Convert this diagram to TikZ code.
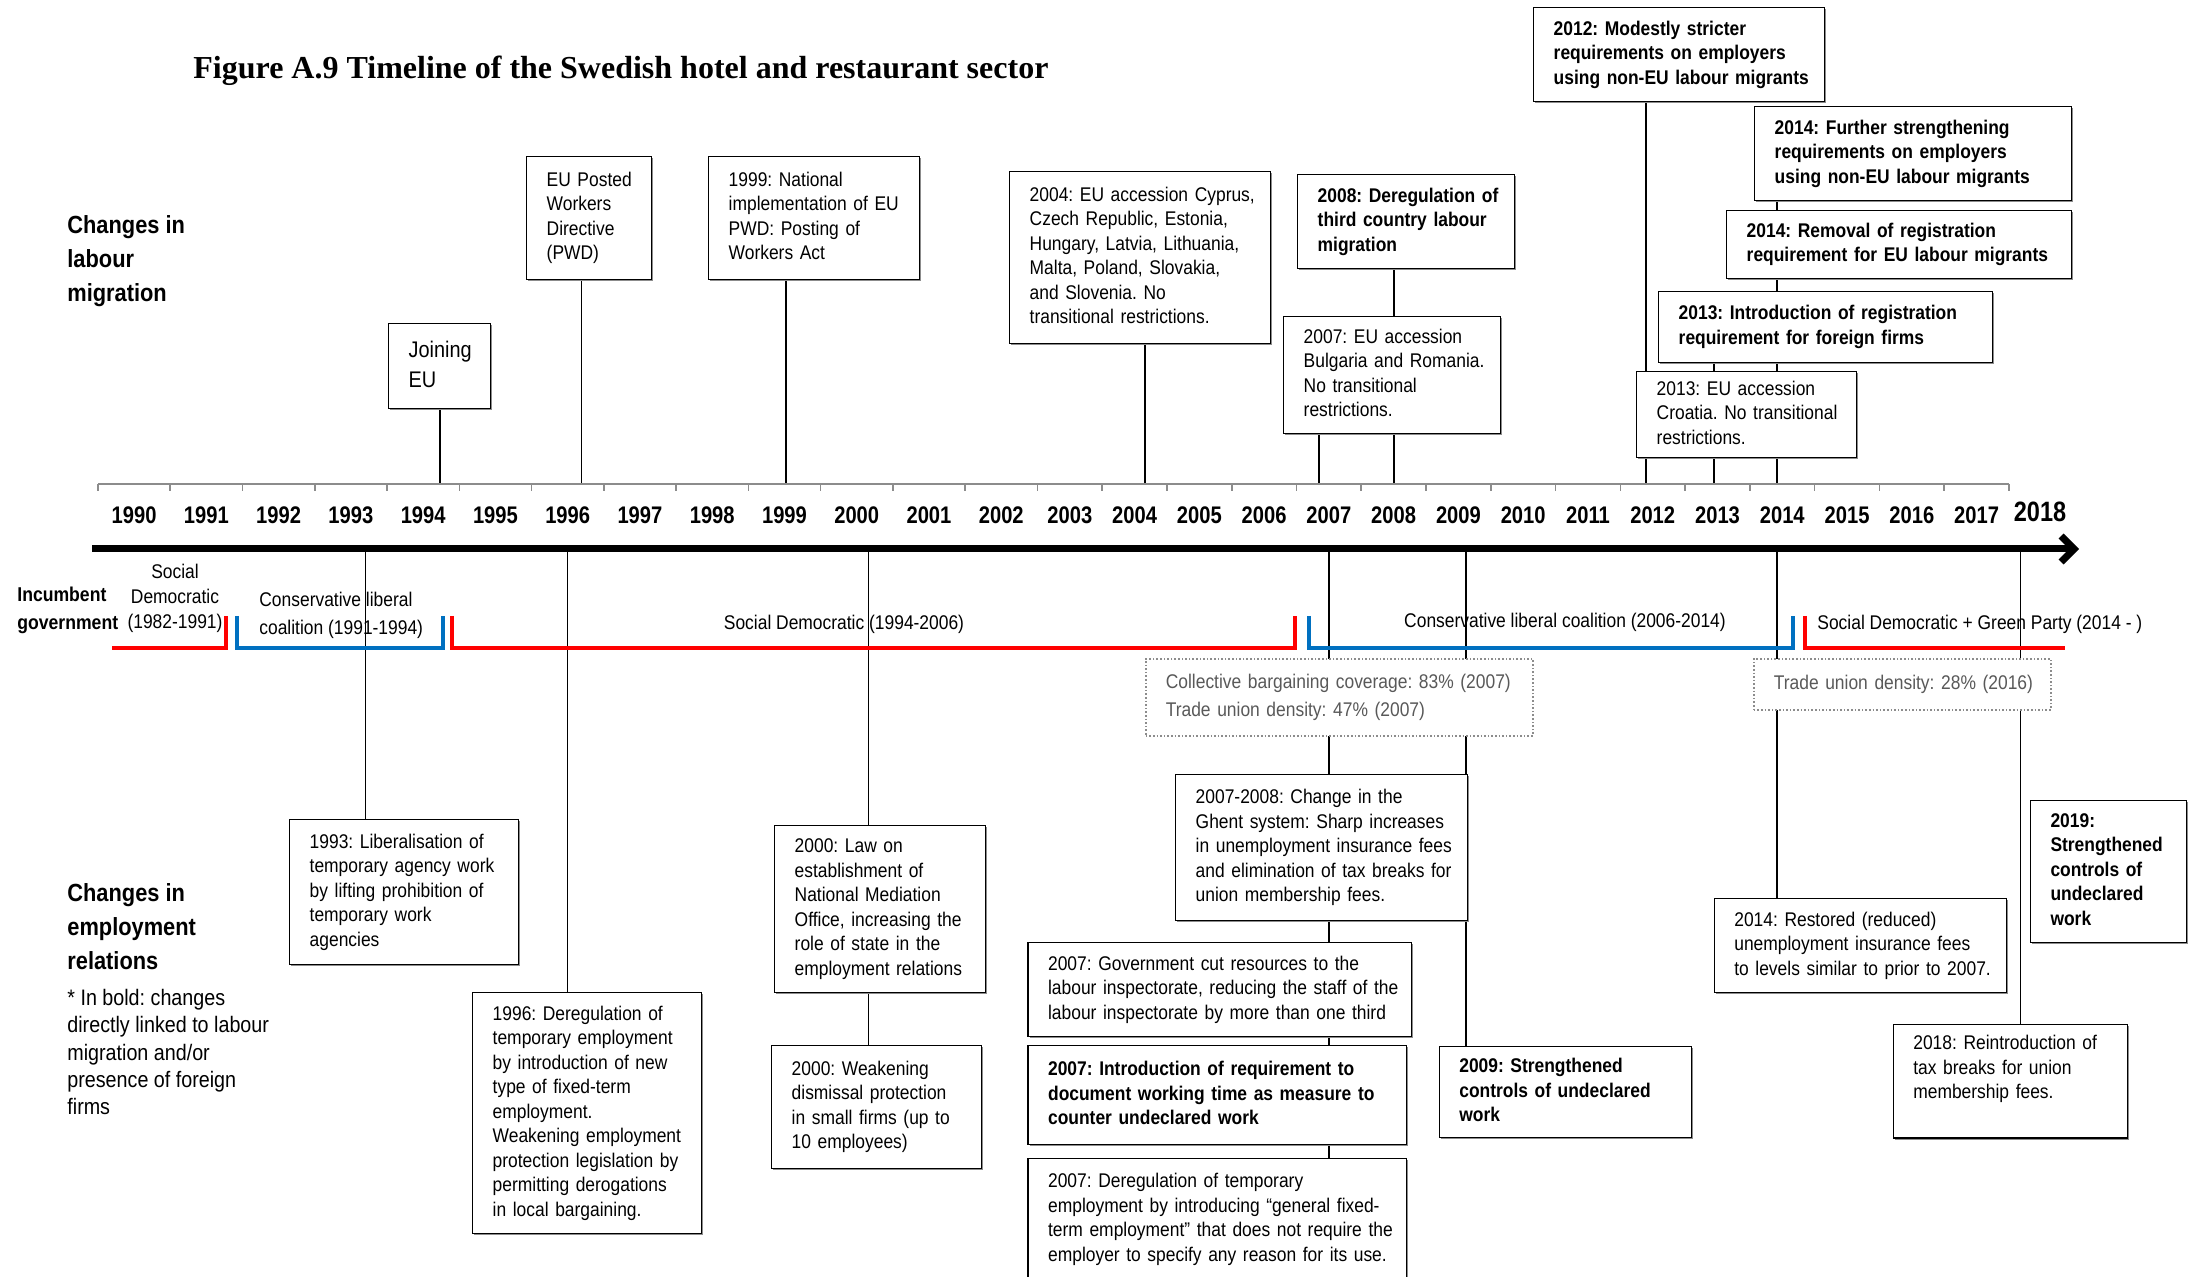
\documentclass[tikz,border=0pt]{standalone}
\usepackage{fontspec}
\setmainfont{Liberation Sans}[FakeStretch=0.88]
\newfontfamily\titlefont{Liberation Serif}
\newfontfamily\yearfont{Liberation Sans}[FakeStretch=0.84]
\usepackage{xcolor}
\definecolor{govRed}{HTML}{FF0000}
\definecolor{govBlue}{HTML}{0070C0}
\definecolor{axisGray}{HTML}{8C8C8C}
\definecolor{noteGray}{HTML}{595959}
\usepackage{tikz}
\usetikzlibrary{arrows.meta,shadows,backgrounds}
\newcommand{\boxlines}[1]{\begin{tabular}{@{}l@{}}#1\end{tabular}}
\frenchspacing

\begin{document}
\begin{tikzpicture}[
  x=1pt, y=-1pt,
  font=\fontsize{9.9}{12.25}\selectfont,
  evt/.style={draw, fill=white, line width=0.7pt, anchor=north west,
              inner xsep=10pt, inner ysep=1pt, align=left,
              drop shadow={shadow xshift=0.7pt, shadow yshift=-0.7pt, fill=black!45, opacity=1}},
  evtb/.style={evt, font=\bfseries\fontsize{9.9}{12.25}\selectfont},
  wh/.style 2 args={minimum width=#1pt, minimum height=#2pt, text width={#1pt-20pt}},
  stat/.style={draw=axisGray, densely dotted, fill=white, line width=0.8pt, anchor=north west,
               inner xsep=10pt, inner ysep=1pt, align=left, text=noteGray,
               font=\fontsize{9.9}{14}\selectfont},
  link/.style={line width=0.7pt},
  tick/.style={draw=axisGray, line width=0.8pt},
  timeax/.style={line width=3.5pt, -{Straight Barb[length=6.5pt,width=13pt]}},
  yr/.style={font=\yearfont\bfseries\fontsize{12}{14}\selectfont, inner sep=0},
  redgov/.style={draw=govRed, line width=1.8pt},
  bluegov/.style={draw=govBlue, line width=1.8pt},
  govtxt/.style={inner sep=0, align=left},
  side/.style={anchor=north west, inner sep=0, align=left,
               font=\bfseries\fontsize{12.4}{17}\selectfont}
]
\useasboundingbox (0,0) rectangle (1097,638.5);

% title and side labels
\node[anchor=base west, inner sep=0, font=\titlefont\bfseries\fontsize{16}{19}\selectfont] (title)
  at (96.5,39.2) {Figure A.9 Timeline of the Swedish hotel and restaurant sector};
\node[side] (lblMig) at (33.5,107.5) {Changes in\\labour\\migration};
\node[side, font=\bfseries\fontsize{10}{14}\selectfont] (lblGov) at (8.5,293.4) {Incumbent\\government};
\node[side] (lblEmp) at (33.5,441.8) {Changes in\\employment\\relations};
\node[side, font=\fontsize{11.2}{13.6}\selectfont] (lblNote) at (33.5,494.5)
  {* In bold: changes\\directly linked to labour\\migration and/or\\presence of foreign\\firms};

% time axis
\coordinate (tickL) at (49,242);
\coordinate (tickR) at (1004.5,242);
\draw[tick] (tickL) -- (tickR);
\foreach \k in {0,...,13} \draw[tick] ({49+36.13*\k},242) -- ++(0,3.5);
\foreach \j in {1,...,15} \draw[tick] ({518.7+32.385*\j},242) -- ++(0,3.5);
\foreach \yr [count=\i from 0] in {1990,...,2002}
  \node[yr] (y\yr) at ({49+36.13*(\i+0.5)},257.5) {\yr};
\foreach \yr [count=\i from 0] in {2003,...,2017}
  \node[yr] (y\yr) at ({518.7+32.385*(\i+0.5)},257.5) {\yr};
\node[yr, font=\yearfont\bfseries\fontsize{14}{16}\selectfont] (y2018) at (1020,256) {2018};
\coordinate (axL) at (46,274.5);
\coordinate (axR) at (1039.5,274.5);
\draw[timeax] (axL) -- (axR);

% governments
\draw[redgov] (56,324) -- (113,324) -- (113,308);
\draw[bluegov] (118.5,308) -- (118.5,324) -- (221.5,324) -- (221.5,308);
\draw[redgov] (226,308) -- (226,324) -- (647.5,324) -- (647.5,308);
\draw[bluegov] (654.5,308) -- (654.5,324) -- (896.5,324) -- (896.5,308);
\draw[redgov] (902.5,308) -- (902.5,324) -- (1032.5,324);
\node[govtxt, align=center, font=\fontsize{9.9}{12.5}\selectfont] (gov82) at (87.5,299) {Social\\Democratic\\(1982-1991)};
\node[govtxt, anchor=west, font=\fontsize{9.9}{14}\selectfont] (gov91) at (129.5,307.5) {Conservative liberal\\coalition (1991-1994)};
\node[govtxt] (gov94) at (422,312) {Social Democratic (1994-2006)};
\node[govtxt] (gov06) at (782.5,311) {Conservative liberal coalition (2006-2014)};
\node[govtxt, anchor=west] (gov14) at (908.5,312) {Social Democratic + Green Party (2014 - )};

% labour migration
\node[evt, wh={51}{42.5}, font=\fontsize{11.3}{15}\selectfont] (mJoin) at (194,161.5) {\boxlines{Joining\\EU}};
\node[evt, wh={62.5}{61.5}] (mPWD) at (263,78) {\boxlines{EU Posted\\Workers\\Directive\\(PWD)}};
\node[evt, wh={105.5}{61.5}] (m1999) at (354,78)
  {\boxlines{1999: National\\implementation of EU\\PWD: Posting of\\Workers Act}};
\node[evt, wh={130.5}{86}] (m2004) at (504.5,85.5)
  {\boxlines{2004: EU accession Cyprus,\\Czech Republic, Estonia,\\Hungary, Latvia, Lithuania,\\Malta, Poland, Slovakia,\\and Slovenia. No\\transitional restrictions.}};
\node[evtb, wh={108.5}{47}] (m2008) at (648.5,87)
  {\boxlines{2008: Deregulation of\\third country labour\\migration}};
\node[evt, wh={108.5}{58.5}] (m2007) at (641.5,158)
  {\boxlines{2007: EU accession\\Bulgaria and Romania.\\No transitional\\restrictions.}};
\node[evtb, wh={145.5}{47}] (m2012) at (766.5,3.5)
  {\boxlines{2012: Modestly stricter\\requirements on employers\\using non-EU labour migrants}};
\node[evtb, wh={158.5}{47}] (m2014a) at (877,53)
  {\boxlines{2014: Further strengthening\\requirements on employers\\using non-EU labour migrants}};
\node[evtb, wh={172.5}{34}] (m2014b) at (863,105)
  {\boxlines{2014: Removal of registration\\requirement for EU labour migrants}};
\node[evtb, wh={167}{35.5}] (m2013a) at (829,145.5)
  {\boxlines{2013: Introduction of registration\\requirement for foreign firms}};
\node[evt, wh={110}{43}] (m2013b) at (818,185.5)
  {\boxlines{2013: EU accession\\Croatia. No transitional\\restrictions.}};

% coverage and density
\node[stat, wh={193.5}{38.5}] (dens07) at (572.5,329)
  {\boxlines{Collective bargaining coverage: 83\% (2007)\\Trade union density: 47\% (2007)}};
\node[stat, wh={148.5}{25.5}] (dens16) at (876.5,329) {\boxlines{Trade union density: 28\% (2016)}};

% employment relations
\node[evt, wh={114.5}{72.5}] (e1993) at (144.5,409.5)
  {\boxlines{1993: Liberalisation of\\temporary agency work\\by lifting prohibition of\\temporary work\\agencies}};
\node[evt, wh={114.5}{120.5}] (e1996) at (236,496)
  {\boxlines{1996: Deregulation of\\temporary employment\\by introduction of new\\type of fixed-term\\employment.\\Weakening employment\\protection legislation by\\permitting derogations\\in local bargaining.}};
\node[evt, wh={105.5}{83.5}] (e2000a) at (387,412.5)
  {\boxlines{2000: Law on\\establishment of\\National Mediation\\Office, increasing the\\role of state in the\\employment relations}};
\node[evt, wh={105}{61.5}] (e2000b) at (385.5,522.5)
  {\boxlines{2000: Weakening\\dismissal protection\\in small firms (up to\\10 employees)}};
\node[evt, wh={146}{73}] (eGhent) at (587.5,387)
  {\boxlines{2007-2008: Change in the\\Ghent system: Sharp increases\\in unemployment insurance fees\\and elimination of tax breaks for\\union membership fees.}};
\node[evt, wh={191.8}{47}] (eGov) at (513.7,471)
  {\boxlines{2007: Government cut resources to the\\labour inspectorate, reducing the staff of the\\labour inspectorate by more than one third}};
\node[evtb, wh={189.3}{49.5}] (eDoc) at (513.7,522.5)
  {\boxlines{2007: Introduction of requirement to\\document working time as measure to\\counter undeclared work}};
\node[evt, wh={189.3}{61}] (eDereg) at (513.7,579)
  {\boxlines{2007: Deregulation of temporary\\employment by introducing “general fixed-\\term employment” that does not require the\\employer to specify any reason for its use.}};
\node[evtb, wh={126}{45.4}] (e2009) at (719.3,523)
  {\boxlines{2009: Strengthened\\controls of undeclared\\work}};
\node[evt, wh={146}{47}] (e2014) at (856.8,449)
  {\boxlines{2014: Restored (reduced)\\unemployment insurance fees\\to levels similar to prior to 2007.}};
\node[evtb, wh={78}{71.2}] (e2019) at (1014.9,399.8)
  {\boxlines{2019:\\Strengthened\\controls of\\undeclared\\work}};
\node[evt, wh={117}{56.7}] (e2018) at (946.3,512)
  {\boxlines{2018: Reintroduction of\\tax breaks for union\\membership fees.\\\mbox{}}};

% connectors
\coordinate (t1994) at (220,242);
\coordinate (t1996) at (290.75,242);
\coordinate (t1999) at (393,242);
\coordinate (t2004) at (572.5,242);
\coordinate (t2007) at (659.5,242);
\coordinate (t2008) at (697,242);
\coordinate (t2012) at (823,242);
\coordinate (t2013) at (857,242);
\coordinate (t2014) at (888.5,242);
\coordinate (a1993) at (182.75,274.5);
\coordinate (a1996) at (283.75,274.5);
\coordinate (a2000) at (434.25,274.5);
\coordinate (a2007) at (664.5,274.5);
\coordinate (a2009) at (733,274.5);
\coordinate (a2014) at (888.5,274.5);
\coordinate (a2018) at (1010.2,274.5);
\begin{scope}[on background layer]
  \draw[link] (mJoin.south -| t1994) -- (t1994);
  \draw[link] (mPWD.south -| t1996) -- (t1996);
  \draw[link] (m1999.south -| t1999) -- (t1999);
  \draw[link] (m2004.south -| t2004) -- (t2004);
  \draw[link] (m2007.south -| t2007) -- (t2007);
  \draw[link] (m2008.south -| t2008) -- (t2008);
  \draw[link] (m2012.south -| t2012) -- (t2012);
  \draw[link] (m2013a.south -| t2013) -- (t2013);
  \draw[link] (m2014a.south -| t2014) -- (t2014);
  \draw[link] (a1993) -- (a1993 |- e1993.north);
  \draw[link] (a1996) -- (a1996 |- e1996.north);
  \draw[link] (a2000) -- (a2000 |- e2000b.north);
  \draw[link] (a2007) -- (a2007 |- eDereg.north);
  \draw[link] (a2009) -- (a2009 |- e2009.north);
  \draw[link] (a2014) -- (a2014 |- e2014.north);
  \draw[link] (a2018) -- (a2018 |- e2018.north);
\end{scope}
\end{tikzpicture}
\end{document}
